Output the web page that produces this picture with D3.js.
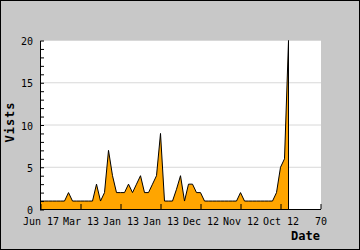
<!DOCTYPE html>
<html>
<head>
<meta charset="utf-8">
<script src="https://cdn.jsdelivr.net/npm/d3@7"></script>
<style>
  html, body { margin: 0; padding: 0; background: #c8c8c8; }
  svg { display: block; }
  text { font-family: "DejaVu Sans Mono", monospace; fill: #000; }
</style>
</head>
<body>
<div id="chart"></div>
<script>
var w = 360
var h = 250

// DATA ********************************
// visits per point (index 0..62)
var visits = [1, 1, 1, 1, 1, 1, 1, 2, 1, 1,
              1, 1, 1, 1, 3, 1, 2, 7, 4, 2,
              2, 2, 3, 2, 3, 4, 2, 2, 3, 4,
              9, 1, 1, 1, 2.4, 4, 1, 3, 3, 2,
              2, 1, 1, 1, 1, 1, 1, 1, 1, 1,
              2, 1, 1, 1, 1, 1, 1, 1, 1, 2,
              5, 6, 20];
var xTickValues = [0, 10, 20, 30, 40, 50, 60, 70];
var xTickLabels = ["Jun 17", "Mar 13", "Jan 13", "Jan 13", "Dec 12", "Nov 12", "Oct 12", "70"];
var yTickValues = d3.range(0, 21);
var yGridValues = [5, 10, 15, 20];
var yLabel = "Vists";
var xLabel = "Date";

var svg = d3.select("#chart").append("svg")
    .attr("width", w)
    .attr("height", h);

// background + frame
svg.append("rect")
    .attr("x", 0.5).attr("y", 0.5)
    .attr("width", w - 1).attr("height", h - 1)
    .attr("fill", "#c8c8c8")
    .attr("stroke", "#000");

// SCALES ********************************
var x = d3.scaleLinear().domain([0, 70]).range([40.5, 320.5]);
var y = d3.scaleLinear().domain([0, 20]).range([209.5, 40.5]);

// plot area
svg.append("rect")
    .attr("x", 40).attr("y", 40)
    .attr("width", 281).attr("height", 170)
    .attr("fill", "#fff");

// grid lines
svg.append("g").selectAll("line")
    .data(yGridValues)
    .enter().append("line")
    .attr("x1", 41).attr("x2", 321)
    .attr("y1", function(d){ return y(d); })
    .attr("y2", function(d){ return y(d); })
    .attr("stroke", "#d8d8d8");

// area + outline
var pts = visits.map(function(v, i){ return [i, v]; });

var area = d3.area()
    .x(function(d){ return x(d[0]); })
    .y0(y(0))
    .y1(function(d){ return y(d[1]); });

svg.append("path")
    .datum(pts)
    .attr("d", area)
    .attr("fill", "#ffa500");

// line drops back to the baseline after the last point
var outline = pts.concat([[visits.length - 1, 0]]);
var line = d3.line()
    .x(function(d){ return x(d[0]); })
    .y(function(d){ return y(d[1]); });

svg.append("path")
    .datum(outline)
    .attr("d", line)
    .attr("fill", "none")
    .attr("stroke", "#000")
    .attr("stroke-width", 1);

// AXES ********************************
var yAxis = d3.axisLeft(y)
    .tickValues(yTickValues)
    .tickSizeInner(-4)
    .tickSizeOuter(0)
    .tickPadding(7)
    .tickFormat(function(d){ return d % 5 === 0 ? d : ""; });

var gy = svg.append("g")
    .attr("transform", "translate(40,0)")
    .call(yAxis);

var xAxis = d3.axisBottom(x)
    .tickValues(xTickValues)
    .tickSizeInner(-5)
    .tickSizeOuter(0)
    .tickPadding(9)
    .tickFormat(function(d, i){ return xTickLabels[i]; });

var gx = svg.append("g")
    .attr("transform", "translate(0,209)")
    .call(xAxis);

svg.selectAll(".tick text")
    .attr("font-family", "DejaVu Sans Mono")
    .attr("font-size", 10);
gy.selectAll(".tick text").attr("dy", "0.4em");
svg.selectAll(".domain, .tick line").attr("stroke", "#000");

// axis titles
svg.append("text")
    .attr("transform", "translate(13.5,122) rotate(-90)")
    .attr("text-anchor", "middle")
    .attr("font-size", 12)
    .attr("font-weight", "bold")
    .attr("letter-spacing", 1)
    .text(yLabel);

svg.append("text")
    .attr("x", 320)
    .attr("y", 240)
    .attr("text-anchor", "end")
    .attr("font-size", 12)
    .attr("font-weight", "bold")
    .text(xLabel);
</script>
</body>
</html>
